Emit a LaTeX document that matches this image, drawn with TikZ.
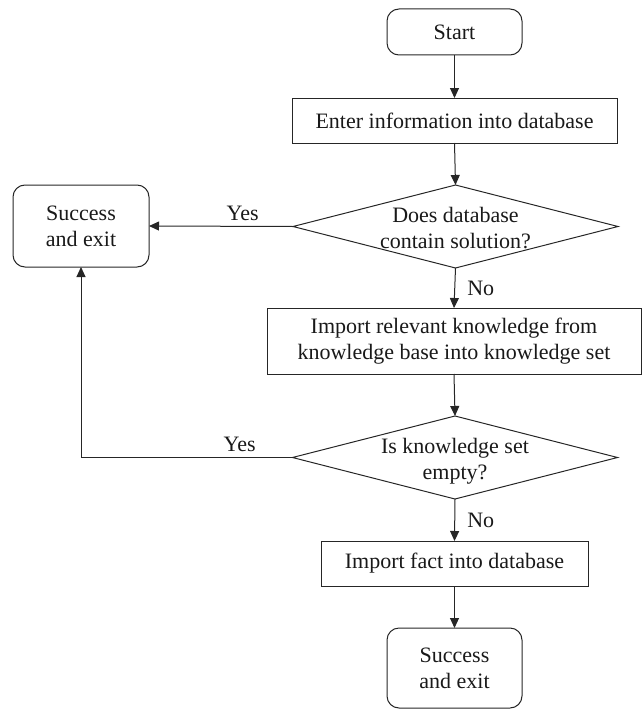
\documentclass[tikz,border=0pt]{standalone}
\usepackage{fontspec}
\setmainfont{Liberation Serif}
\usetikzlibrary{shapes.geometric,arrows.meta}
\begin{document}
\begin{tikzpicture}[x=1pt,y=-1pt,
  every node/.style={font=\fontsize{22}{26}\selectfont, text=black!90},
  box/.style={draw=black!85, line width=1pt, rectangle, inner sep=0pt, outer sep=0pt, align=center},
  term/.style={box, rounded corners=12pt},
  dia/.style={draw=black!85, line width=1pt, diamond, inner sep=0pt, outer sep=0pt, minimum width=325pt, minimum height=83pt},
  txt/.style={align=center, inner sep=0pt},
  conn/.style={draw=black!85, line width=1pt, -{Triangle[length=10pt,width=9pt]}},
  lab/.style={inner sep=0pt}
]
\useasboundingbox (0,0) rectangle (643,709);

\node[term, minimum width=135pt, minimum height=46pt] (start) at (454.5,32) {Start};
\node[box, minimum width=325pt, minimum height=45pt] (enter) at (454.5,120.5) {Enter information into database};
\node[dia] (d1) at (455.5,226.5) {};
\node[txt] at (455.5,228.5) {Does database\\contain solution?};
\node[term, minimum width=136pt, minimum height=82pt] (succL) at (81,226) {Success\\and exit};
\node[box, minimum width=374pt, minimum height=66pt] (imp) at (454,341) {Import relevant knowledge from\\knowledge base into knowledge set};
\node[dia] (d2) at (455,457.5) {};
\node[txt] at (455,461) {Is knowledge set\\empty?};
\node[box, minimum width=267pt, minimum height=45pt] (fact) at (454.5,563.5) {Import fact into database};
\node[term, minimum width=135pt, minimum height=80pt] (succB) at (454.5,668) {Success\\and exit};

\draw[conn] (start.south) -- (enter.north);
\draw[conn] (enter.south) -- (d1.north);
\draw[conn] (d1.west) -- node[lab, pos=0.35, above=5pt] {Yes} (succL.east);
\draw[conn] (d1.south) -- node[lab, right=12pt] {No} (imp.north);
\draw[conn] (imp.south) -- (d2.north);
\draw[conn] (d2.west) -- node[lab, pos=0.25, above=5pt] {Yes} (succL.south |- d2.west) -- (succL.south);
\draw[conn] (d2.south) -- node[lab, right=12pt] {No} (fact.north);
\draw[conn] (fact.south) -- (succB.north);
\end{tikzpicture}
\end{document}
